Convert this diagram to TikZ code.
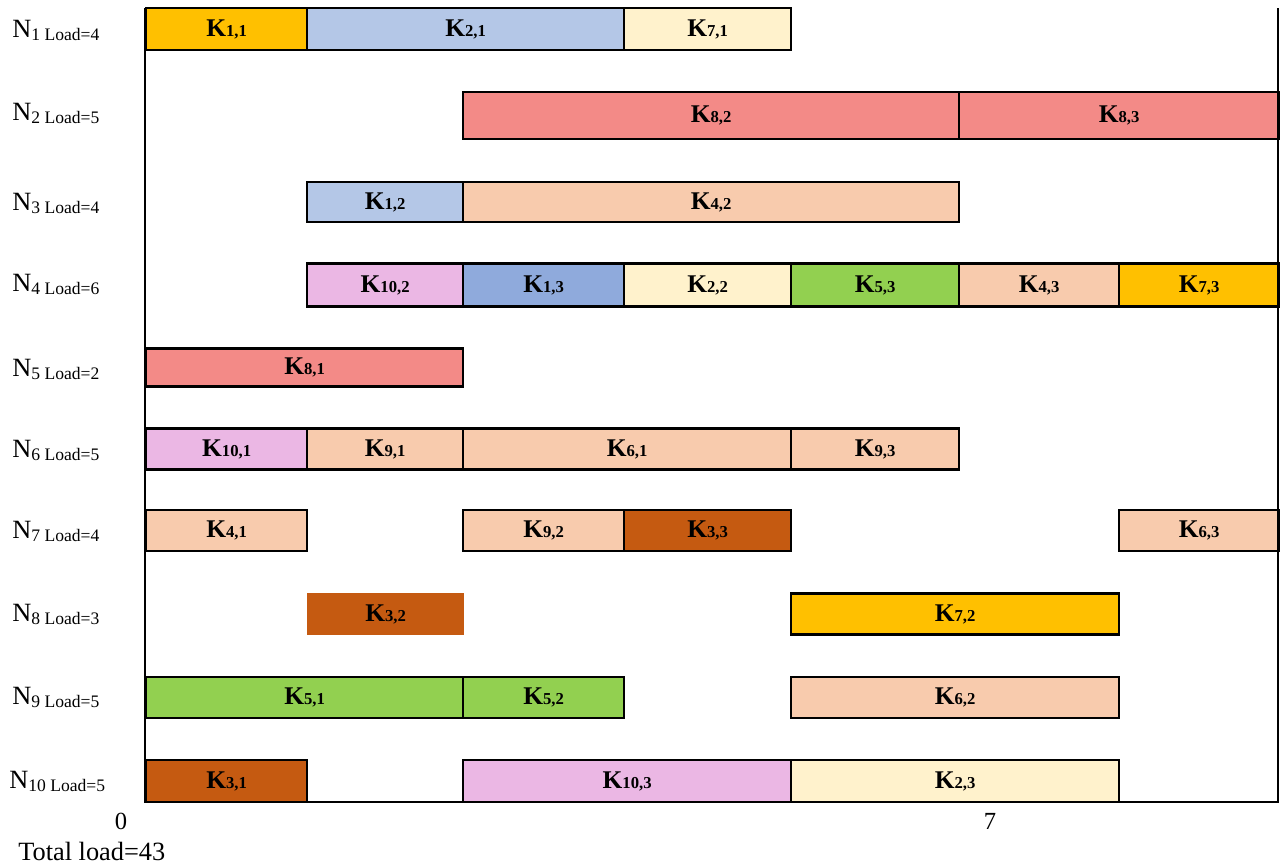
\documentclass[tikz,border=0pt]{standalone}
\usepackage{fontspec}
\setmainfont{Liberation Serif}
\usepackage{xcolor}
\usepackage{tikz}

\definecolor{kgold}{HTML}{FFC000}
\definecolor{kblue}{HTML}{B4C7E7}
\definecolor{kdblue}{HTML}{8FAADC}
\definecolor{kcream}{HTML}{FFF2CC}
\definecolor{kred}{HTML}{F38A87}
\definecolor{kpeach}{HTML}{F8CBAD}
\definecolor{kpink}{HTML}{EBB7E4}
\definecolor{kgreen}{HTML}{92D050}
\definecolor{kbrown}{HTML}{C55A11}

% task and machine labels
\newcommand{\kl}[1]{K{\fontsize{9.5}{10}\selectfont #1}}
\newcommand{\nl}[2]{N\raisebox{-1.7pt}{\fontsize{10}{10}\selectfont #1 Load=#2}}

\begin{document}
\begin{tikzpicture}[x=0.02cm, y=-0.02cm,
  task/.style={draw=black, line width=1.3pt, anchor=west, inner sep=0pt,
    minimum height=41*0.02cm, font=\bfseries\fontsize{14.5}{15}\selectfont},
  machine/.style={anchor=west, inner sep=0pt, font=\fontsize{15}{16}\selectfont},
  tick/.style={inner sep=0pt, font=\fontsize{14}{15}\selectfont}]

\useasboundingbox (0,0) rectangle (1282,866);

% machines
\node[machine] (N1) at (12,30) {\nl{1}{4}};
\node[machine] (N2) at (12,113) {\nl{2}{5}};
\node[machine] (N3) at (12,203) {\nl{3}{4}};
\node[machine] (N4) at (12,284) {\nl{4}{6}};
\node[machine] (N5) at (12,369) {\nl{5}{2}};
\node[machine] (N6) at (12,450) {\nl{6}{5}};
\node[machine] (N7) at (12,531) {\nl{7}{4}};
\node[machine] (N8) at (12,614) {\nl{8}{3}};
\node[machine] (N9) at (12,697) {\nl{9}{5}};
\node[machine] (N10) at (9,781) {\nl{10}{5}};

% N1
\node[task, fill=kgold, minimum width=161*0.02cm, minimum height=42*0.02cm] (K11) at (145,29) {\kl{1,1}};
\node[task, fill=kblue, minimum width=317*0.02cm, minimum height=42*0.02cm] (K21) at (306,29) {\kl{2,1}};
\node[task, fill=kcream, minimum width=167*0.02cm, minimum height=42*0.02cm] (K71) at (623,29) {\kl{7,1}};

% N2
\node[task, fill=kred, minimum width=496*0.02cm, minimum height=47*0.02cm] (K82) at (462,115.5) {\kl{8,2}};
\node[task, fill=kred, minimum width=320*0.02cm, minimum height=47*0.02cm] (K83) at (958,115.5) {\kl{8,3}};

% N3
\node[task, fill=kblue, minimum width=156*0.02cm, minimum height=40*0.02cm] (K12) at (306,202) {\kl{1,2}};
\node[task, fill=kpeach, minimum width=496*0.02cm, minimum height=40*0.02cm] (K42) at (462,202) {\kl{4,2}};

% N4
\node[task, fill=kpink, minimum width=156*0.02cm, minimum height=43*0.02cm] (K102) at (306,285) {\kl{10,2}};
\node[task, fill=kdblue, minimum width=161*0.02cm, minimum height=43*0.02cm] (K13) at (462,285) {\kl{1,3}};
\node[task, fill=kcream, minimum width=167*0.02cm, minimum height=43*0.02cm] (K22) at (623,285) {\kl{2,2}};
\node[task, fill=kgreen, minimum width=168*0.02cm, minimum height=43*0.02cm] (K53) at (790,285) {\kl{5,3}};
\node[task, fill=kpeach, minimum width=160*0.02cm, minimum height=43*0.02cm] (K43) at (958,285) {\kl{4,3}};
\node[task, fill=kgold, minimum width=160*0.02cm, minimum height=43*0.02cm] (K73) at (1118,285) {\kl{7,3}};

% N5
\node[task, fill=kred, minimum width=317*0.02cm, minimum height=38*0.02cm] (K81) at (145,367.5) {\kl{8,1}};

% N6
\node[task, fill=kpink, minimum width=161*0.02cm] (K101) at (145,449) {\kl{10,1}};
\node[task, fill=kpeach, minimum width=156*0.02cm] (K91) at (306,449) {\kl{9,1}};
\node[task, fill=kpeach, minimum width=328*0.02cm] (K61) at (462,449) {\kl{6,1}};
\node[task, fill=kpeach, minimum width=168*0.02cm] (K93) at (790,449) {\kl{9,3}};

% N7
\node[task, fill=kpeach, minimum width=161*0.02cm] (K41) at (145,530.5) {\kl{4,1}};
\node[task, fill=kpeach, minimum width=161*0.02cm] (K92) at (462,530.5) {\kl{9,2}};
\node[task, fill=kbrown, minimum width=167*0.02cm] (K33) at (623,530.5) {\kl{3,3}};
\node[task, fill=kpeach, minimum width=160*0.02cm] (K63) at (1118,530.5) {\kl{6,3}};

% N8
\node[task, draw=none, fill=kbrown, minimum width=157*0.02cm, minimum height=42*0.02cm] (K32) at (306,614) {\kl{3,2}};
\node[task, fill=kgold, minimum width=328*0.02cm] (K72) at (790,614) {\kl{7,2}};

% N9
\node[task, fill=kgreen, minimum width=317*0.02cm] (K51) at (145,697.5) {\kl{5,1}};
\node[task, fill=kgreen, minimum width=161*0.02cm] (K52) at (462,697.5) {\kl{5,2}};
\node[task, fill=kpeach, minimum width=328*0.02cm] (K62) at (790,697.5) {\kl{6,2}};

% N10
\node[task, fill=kbrown, minimum width=161*0.02cm, minimum height=42*0.02cm] (K31) at (145,781) {\kl{3,1}};
\node[task, fill=kpink, minimum width=328*0.02cm, minimum height=42*0.02cm] (K103) at (462,781) {\kl{10,3}};
\node[task, fill=kcream, minimum width=328*0.02cm, minimum height=42*0.02cm] (K23) at (790,781) {\kl{2,3}};

% frame
\coordinate (topleft) at (145,8);
\coordinate (origin) at (145,802);
\coordinate (bottomright) at (1278,802);
\coordinate (topright) at (1278,8);
\draw[line width=1.3pt] (topleft) -- (origin) -- (bottomright) -- (topright);

% time axis
\node[tick] (t0) at (121,821) {0};
\node[tick] (t7) at (990,821) {7};
\node[tick, anchor=west, font=\fontsize{15}{16}\selectfont] (total) at (18,851) {Total load=43};

\end{tikzpicture}
\end{document}
